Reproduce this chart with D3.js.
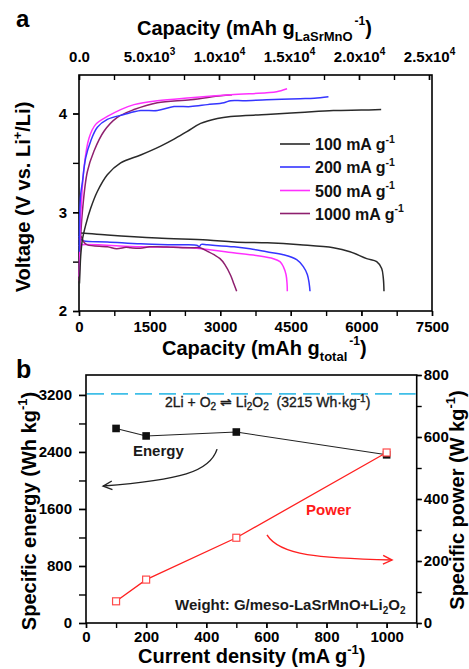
<!DOCTYPE html>
<html>
<head>
<meta charset="utf-8">
<script src="https://cdn.jsdelivr.net/npm/d3@7"></script>
<style>
  body { margin: 0; background: #fff; }
  svg text { font-family: "Liberation Sans", Arial, Helvetica, sans-serif; }
</style>
</head>
<body>
<svg id="fig" width="469" height="669"></svg>
<script>
// ---------- Panel a: galvanostatic discharge/charge profiles [capacity mAh/g_total, voltage V] ----------
const rateLabels = ["100", "200", "500", "1000"];
const rateColors = ["#2a2a2a", "#3535ff", "#ff30ff", "#8e1f6e"];

const discharge100 = [[0,2.79],[35,2.79],[602,2.77],[1664,2.74],[2727,2.72],[3294,2.70],[4000,2.69],[4696,2.67],[5404,2.64],[5758,2.60],[6113,2.53],[6325,2.50],[6431,2.43],[6466,2.33],[6480,2.20]];
const charge100 = [[10,2.28],[20,2.40],[35,2.55],[71,2.72],[142,2.87],[248,3.04],[390,3.21],[602,3.38],[885,3.50],[1310,3.58],[1735,3.67],[2019,3.74],[2302,3.82],[2585,3.90],[2940,3.95],[3223,3.97],[3988,3.99],[4700,4.01],[5404,4.03],[6000,4.035],[6420,4.04]];

const discharge200 = [[0,2.76],[35,2.73],[100,2.71],[602,2.70],[1310,2.68],[2019,2.67],[2515,2.665],[2550,2.65],[2600,2.675],[2727,2.67],[3294,2.65],[3634,2.63],[3988,2.60],[4341,2.57],[4625,2.52],[4766,2.45],[4851,2.37],[4890,2.28],[4908,2.20]];
const charge200 = [[8,2.60],[20,3.05],[40,3.20],[71,3.30],[142,3.55],[248,3.72],[390,3.86],[602,3.94],[956,3.99],[1310,4.03],[1664,4.03],[2019,4.07],[2373,4.07],[2727,4.09],[3081,4.11],[3223,4.13],[3500,4.13],[3988,4.14],[4696,4.15],[5000,4.155],[5300,4.17]];

const discharge500 = [[0,2.66],[35,2.67],[1310,2.65],[2373,2.64],[3279,2.59],[3800,2.56],[4129,2.53],[4270,2.50],[4341,2.45],[4398,2.37],[4420,2.28],[4426,2.20]];
const charge500 = [[5,2.35],[20,2.70],[35,2.94],[106,3.45],[212,3.75],[354,3.89],[602,3.97],[885,4.04],[1169,4.09],[1664,4.13],[2373,4.16],[3223,4.19],[3988,4.21],[4200,4.22],[4420,4.25]];

const discharge1000 = [[0,2.72],[35,2.76],[100,2.70],[177,2.67],[602,2.65],[800,2.63],[1000,2.645],[1098,2.64],[1300,2.635],[1500,2.65],[1664,2.65],[2000,2.645],[2373,2.64],[2571,2.64],[2750,2.60],[2869,2.57],[2996,2.53],[3100,2.47],[3223,2.36],[3294,2.27],[3350,2.20]];
const charge1000 = [[5,2.30],[20,2.60],[71,3.00],[177,3.41],[319,3.62],[531,3.82],[814,3.96],[1169,4.04],[1664,4.11],[2373,4.14],[3010,4.18],[3250,4.19]];

const dischargeCurves = [discharge100, discharge200, discharge500, discharge1000];
const chargeCurves = [charge100, charge200, charge500, charge1000];

// bottom capacity ticks (mAh/g_total), top capacity ticks (mAh/g_LaSrMnO), voltage ticks
const capTicks = [0, 1500, 3000, 4500, 6000, 7500];
const capTopTicks = [0, 5000, 10000, 15000, 20000, 25000];
const voltTicks = [2, 3, 4];

// ---------- Panel b: energy / power vs current density ----------
const currents = [100, 200, 500, 1000];
const energy = [2730, 2625, 2680, 2360];   // Wh/kg
const power = [70, 140, 275, 550];         // W/kg
const theoreticalEnergy = 3215;            // 2Li + O2 -> Li2O2
const currentTicks = [0, 200, 400, 600, 800, 1000];
const energyTicks = [0, 800, 1600, 2400, 3200];
const powerTicks = [0, 200, 400, 600, 800];
// curved pointer arrows, in data units of their own axis
const energyArrow = [[436, 2440], [412, 2120], [313, 2005], [57, 1922]];
const powerArrow = [[602, 284], [645, 216], [778, 210], [1018, 203]];

const svg = d3.select("#fig");
const FONT = '"Liberation Sans", Arial, Helvetica, sans-serif';

// ================= Panel a =================
const A = { l: 79, r: 432, t: 75, b: 311 };
const xA = d3.scaleLinear().domain([0, 7500]).range([A.l, A.r]);
const xTop = d3.scaleLinear().domain([0, 25214]).range([A.l, A.r]);
const yA = d3.scaleLinear().domain([2, 4.39]).range([A.b, A.t]);

const gA = svg.append("g");

function styleAxis(g, size) {
  g.select(".domain").remove();
  g.selectAll(".tick line").attr("stroke", "#000").attr("stroke-width", 1.4);
  g.selectAll("text").attr("fill", "#000").attr("font-size", size).attr("font-weight", "bold").attr("font-family", FONT);
}

// minor ticks
gA.append("g").attr("transform", `translate(0,${A.b})`)
  .call(d3.axisBottom(xA).tickValues(d3.range(0, 7501, 750)).tickSize(5).tickFormat(""))
  .call(g => styleAxis(g, 14));
gA.append("g").attr("transform", `translate(${A.l},0)`)
  .call(d3.axisLeft(yA).tickValues([2, 2.5, 3, 3.5, 4]).tickSize(6).tickFormat(""))
  .call(g => styleAxis(g, 14));
gA.append("g").attr("transform", `translate(0,${A.t})`)
  .call(d3.axisTop(xTop).tickValues(d3.range(0, 25001, 2500)).tickSize(-5).tickFormat(""))
  .call(g => styleAxis(g, 14));

// major labelled ticks
gA.append("g").attr("transform", `translate(0,${A.b})`)
  .call(d3.axisBottom(xA).tickValues(capTicks).tickSize(5).tickPadding(5).tickFormat(d3.format("d")))
  .call(g => styleAxis(g, 15));
gA.append("g").attr("transform", `translate(${A.l},0)`)
  .call(d3.axisLeft(yA).tickValues(voltTicks).tickSize(6).tickPadding(6).tickFormat(d3.format("d")))
  .call(g => styleAxis(g, 15));
const topAx = gA.append("g").attr("transform", `translate(0,${A.t})`)
  .call(d3.axisTop(xTop).tickValues(capTopTicks).tickSize(-5).tickPadding(13).tickFormat(""))
  .call(g => styleAxis(g, 15));
// scientific labels: m.0x10^e
topAx.selectAll(".tick text").each(function (d) {
  const t = d3.select(this);
  if (d === 0) { t.text("0.0"); return; }
  const e = Math.floor(Math.log10(d));
  const m = d / Math.pow(10, e);
  t.text(null);
  t.append("tspan").text(m.toFixed(1) + "x10");
  t.append("tspan").attr("font-size", 10).attr("dy", -7).text(e);
});

// frame
gA.append("rect").attr("x", A.l).attr("y", A.t).attr("width", A.r - A.l).attr("height", A.b - A.t)
  .attr("fill", "none").attr("stroke", "#000").attr("stroke-width", 1.6);

// curves
const lineA = d3.line().x(d => xA(d[0])).y(d => yA(d[1])).curve(d3.curveCatmullRom.alpha(0.5));
const curveG = gA.append("g");
[0, 1, 2, 3].forEach(i => {
  curveG.append("path").datum(dischargeCurves[i]).attr("d", lineA)
    .attr("fill", "none").attr("stroke", rateColors[i]).attr("stroke-width", 1.5);
});
[3, 2, 1, 0].forEach(i => {
  curveG.append("path").datum(chargeCurves[i]).attr("d", lineA)
    .attr("fill", "none").attr("stroke", rateColors[i]).attr("stroke-width", 1.5);
});

// legend
const legRows = [144, 167, 190.5, 213.5];
rateLabels.forEach((lab, i) => {
  gA.append("line").attr("x1", 280).attr("x2", 310).attr("y1", legRows[i]).attr("y2", legRows[i])
    .attr("stroke", rateColors[i]).attr("stroke-width", 1.6);
  const t = gA.append("text").attr("x", 315).attr("y", legRows[i] + 6)
    .attr("font-size", 16).attr("font-weight", "bold").attr("fill", "#111");
  t.append("tspan").text(lab + " mA g");
  t.append("tspan").attr("font-size", 10.5).attr("dy", -7.5).text("-1");
});

// axis titles with subscript + superscript unit
function titleWithSubSup(g, x, y, main, sub, sup, tail) {
  const t = g.append("text").attr("x", x).attr("y", y)
    .attr("font-size", 20).attr("font-weight", "bold").attr("fill", "#000");
  t.append("tspan").text(main);
  t.append("tspan").attr("font-size", 13).attr("dy", 6).text(sub);
  t.append("tspan").attr("font-size", 12).attr("dy", -16).attr("dx", 2).text(sup);
  t.append("tspan").attr("dy", 10).text(tail);
  return t;
}
titleWithSubSup(gA, 137, 35, "Capacity (mAh g", "LaSrMnO", "-1", ")");
titleWithSubSup(gA, 162, 355, "Capacity (mAh g", "total", "-1", ")");
{
  const t = gA.append("text").attr("transform", "translate(30,197) rotate(-90)").attr("text-anchor", "middle")
    .attr("font-size", 20).attr("font-weight", "bold").attr("fill", "#000");
  t.append("tspan").text("Voltage (V vs. Li");
  t.append("tspan").attr("font-size", 13).attr("dy", -8).text("+");
  t.append("tspan").attr("dy", 8).text("/Li)");
}
svg.append("text").attr("x", 16).attr("y", 27).attr("font-size", 24).attr("font-weight", "bold").text("a");

// ================= Panel b =================
const B = { l: 86, r: 416.7, t: 375, b: 623 };
const xB = d3.scaleLinear().domain([0, 1100]).range([B.l, B.r]);
const yE = d3.scaleLinear().domain([0, 3480]).range([B.b, B.t]);
const yP = d3.scaleLinear().domain([0, 800]).range([B.b, B.t]);
const gB = svg.append("g");

// minor ticks
gB.append("g").attr("transform", `translate(0,${B.b})`)
  .call(d3.axisBottom(xB).tickValues(d3.range(0, 1101, 100)).tickSize(5).tickFormat(""))
  .call(g => styleAxis(g, 14));
gB.append("g").attr("transform", `translate(${B.l},0)`)
  .call(d3.axisLeft(yE).tickValues(d3.range(0, 3201, 400)).tickSize(7).tickFormat(""))
  .call(g => styleAxis(g, 14));
gB.append("g").attr("transform", `translate(${B.r},0)`)
  .call(d3.axisRight(yP).tickValues(d3.range(0, 801, 100)).tickSize(5).tickFormat(""))
  .call(g => styleAxis(g, 14));
// major ticks
gB.append("g").attr("transform", `translate(0,${B.b})`)
  .call(d3.axisBottom(xB).tickValues(currentTicks).tickSize(5).tickPadding(3).tickFormat(d3.format("d")))
  .call(g => styleAxis(g, 15));
gB.append("g").attr("transform", `translate(${B.l},0)`)
  .call(d3.axisLeft(yE).tickValues(energyTicks).tickSize(7).tickPadding(7).tickFormat(d3.format("d")))
  .call(g => styleAxis(g, 15));
gB.append("g").attr("transform", `translate(${B.r},0)`)
  .call(d3.axisRight(yP).tickValues(powerTicks).tickSize(5).tickPadding(2).tickFormat(d3.format("d")))
  .call(g => styleAxis(g, 15));

gB.append("rect").attr("x", B.l).attr("y", B.t).attr("width", B.r - B.l).attr("height", B.b - B.t)
  .attr("fill", "none").attr("stroke", "#000").attr("stroke-width", 1.6);

// theoretical energy line
gB.append("line").attr("x1", B.l + 1).attr("x2", B.r - 1)
  .attr("y1", yE(theoreticalEnergy)).attr("y2", yE(theoreticalEnergy))
  .attr("stroke", "#3fbfe8").attr("stroke-width", 1.8).attr("stroke-dasharray", "17,7");
{
  const t = gB.append("text").attr("x", 165).attr("y", yE(theoreticalEnergy) + 13)
    .attr("font-size", 14).attr("fill", "#1a1a1a").attr("stroke", "#1a1a1a").attr("stroke-width", 0.35);
  t.append("tspan").text("2Li + O");
  t.append("tspan").attr("font-size", 10).attr("dy", 3).text("2");
  t.append("tspan").attr("dy", -3).text(" \u21CC Li");
  t.append("tspan").attr("font-size", 10).attr("dy", 3).text("2");
  t.append("tspan").attr("dy", -3).text("O");
  t.append("tspan").attr("font-size", 10).attr("dy", 3).text("2");
  t.append("tspan").attr("dy", -3).attr("xml:space", "preserve").text("  (3215 Wh\u00B7kg");
  t.append("tspan").attr("font-size", 10).attr("dy", -5).text("-1");
  t.append("tspan").attr("dy", 5).text(")");
}

// energy series
const pairsE = currents.map((c, i) => [c, energy[i]]);
const pairsP = currents.map((c, i) => [c, power[i]]);
gB.append("path").datum(pairsE)
  .attr("d", d3.line().x(d => xB(d[0])).y(d => yE(d[1])))
  .attr("fill", "none").attr("stroke", "#222").attr("stroke-width", 1.1);
gB.selectAll(".eMark").data(pairsE).join("rect")
  .attr("x", d => xB(d[0]) - 3.8).attr("y", d => yE(d[1]) - 3.8)
  .attr("width", 7.6).attr("height", 7.6).attr("fill", "#111");

// power series
gB.append("path").datum(pairsP)
  .attr("d", d3.line().x(d => xB(d[0])).y(d => yP(d[1])))
  .attr("fill", "none").attr("stroke", "#ff2020").attr("stroke-width", 1.3);
gB.selectAll(".pMark").data(pairsP).join("rect")
  .attr("x", d => xB(d[0]) - 3.5).attr("y", d => yP(d[1]) - 3.5)
  .attr("width", 7).attr("height", 7).attr("fill", "#fff")
  .attr("stroke", "#ff4a4a").attr("stroke-width", 1.2);

// labels and pointer arrows
gB.append("text").attr("x", xB(156)).attr("y", yE(2343)).attr("font-size", 15)
  .attr("font-weight", "bold").attr("fill", "#1a1a1a").text("Energy");
gB.append("text").attr("x", xB(732)).attr("y", yP(350)).attr("font-size", 15)
  .attr("font-weight", "bold").attr("fill", "#ff1a1a").text("Power");

function arrow(pts, ys, color) {
  const p = pts.map(d => [xB(d[0]), ys(d[1])]);
  const path = d3.path();
  path.moveTo(p[0][0], p[0][1]);
  path.bezierCurveTo(p[1][0], p[1][1], p[2][0], p[2][1], p[3][0], p[3][1]);
  gB.append("path").attr("d", path.toString()).attr("fill", "none")
    .attr("stroke", color).attr("stroke-width", 1.4);
  // open arrowhead aligned with the final segment
  const tip = p[3], prev = p[2];
  const ang = Math.atan2(tip[1] - prev[1], tip[0] - prev[0]);
  const len = 10, spread = 0.45;
  const a1 = [tip[0] - len * Math.cos(ang - spread), tip[1] - len * Math.sin(ang - spread)];
  const a2 = [tip[0] - len * Math.cos(ang + spread), tip[1] - len * Math.sin(ang + spread)];
  gB.append("path").attr("d", `M${a1}L${tip}L${a2}`).attr("fill", "none")
    .attr("stroke", color).attr("stroke-width", 1.4);
}
arrow(energyArrow, yE, "#222");
arrow(powerArrow, yP, "#ff2020");

{
  const t = gB.append("text").attr("x", 175).attr("y", 610).attr("font-size", 15)
    .attr("font-weight", "bold").attr("fill", "#1a1a1a");
  t.append("tspan").text("Weight: G/meso-LaSrMnO+Li");
  t.append("tspan").attr("font-size", 10).attr("dy", 4).text("2");
  t.append("tspan").attr("dy", -4).text("O");
  t.append("tspan").attr("font-size", 10).attr("dy", 4).text("2");
}

// axis titles
{
  const t = gB.append("text").attr("x", 138).attr("y", 663).attr("font-size", 20)
    .attr("font-weight", "bold").attr("fill", "#000");
  t.append("tspan").text("Current density (mA g");
  t.append("tspan").attr("font-size", 13).attr("dy", -9).text("-1");
  t.append("tspan").attr("dy", 9).text(")");
}
function rotTitle(x, y, main, tail) {
  const t = gB.append("text").attr("transform", `translate(${x},${y}) rotate(-90)`)
    .attr("text-anchor", "middle").attr("font-size", 20).attr("font-weight", "bold").attr("fill", "#000");
  t.append("tspan").text(main);
  t.append("tspan").attr("font-size", 13).attr("dy", -9).text("-1");
  t.append("tspan").attr("dy", 9).text(tail);
}
rotTitle(36, 511, "Specific energy (Wh kg", ")");
rotTitle(464, 500, "Specific power (W kg", ")");
svg.append("text").attr("x", 16).attr("y", 378).attr("font-size", 25).attr("font-weight", "bold").text("b");
</script>
</body>
</html>
